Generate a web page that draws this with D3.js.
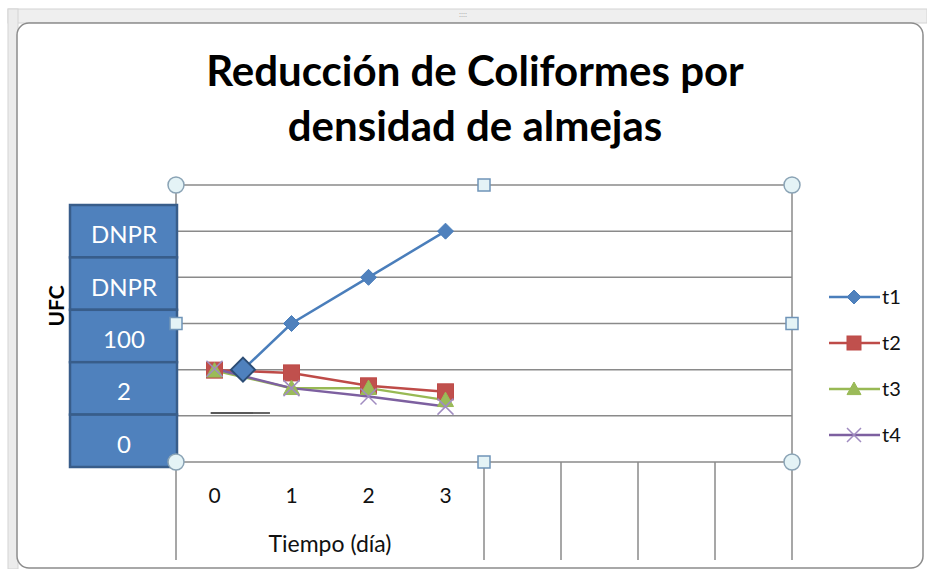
<!DOCTYPE html>
<html>
<head>
<meta charset="utf-8">
<script src="https://cdn.jsdelivr.net/npm/d3@7"></script>
<style>
  body { margin: 0; background: #fff; }
  svg { display: block; font-family: Lato, "Open Sans", sans-serif; }
</style>
</head>
<body>
<svg id="chart" width="927" height="569"></svg>
<script>
var width = 927;
var height = 569;

// category axis: 8 slots, only the first four labelled
var categories = ['0', '1', '2', '3', '', '', '', ''];
var groupLabels = ['Tiempo (día)', '', '', '', ''];
var groupSpans = [4, 1, 1, 1, 1];

// left boxes standing in for the value axis labels
var boxLabels = ['DNPR', 'DNPR', '100', '2', '0'];

var seriesNames = ['t1', 't2', 't3', 't4'];
var t1x = [0.37, 1, 2, 3];
var t1 = [2.0, 3.0, 4.0, 5.0];
var tx = [0, 1, 2, 3];
var t2 = [1.99, 1.93, 1.65, 1.52];
var t3 = [1.98, 1.6, 1.6, 1.34];
var t4 = [2.02, 1.6, 1.42, 1.2];

var colors = ['#4a7ebb', '#be4b48', '#98b954', '#7d60a0'];
var markers = ['diamond', 'square', 'triangle', 'x'];

var series = [
    { name: 't1', xs: t1x, ys: t1 },
    { name: 't2', xs: tx, ys: t2 },
    { name: 't3', xs: tx, ys: t3 },
    { name: 't4', xs: tx, ys: t4 }
];

var plot = { left: 176, right: 792, top: 185, bottom: 462 };

var svg = d3.select('#chart');

// window chrome
svg.append('rect').attr('x', 8).attr('y', 9).attr('width', 919).attr('height', 14)
    .attr('fill', '#efefef').attr('stroke', '#d4d4d4');
svg.append('rect').attr('x', 8).attr('y', 9).attr('width', 10).attr('height', 560)
    .attr('fill', '#ececec').attr('stroke', '#d4d4d4');
svg.append('text').attr('x', 463).attr('y', 17).attr('text-anchor', 'middle')
    .attr('font-size', 8).attr('fill', '#aaa').text('::::');
svg.append('rect').attr('x', 17).attr('y', 23).attr('width', 906).attr('height', 545)
    .attr('rx', 12).attr('fill', '#fff').attr('stroke', '#8c8c8c').attr('stroke-width', 1.5);

// title
var title = svg.append('text').attr('text-anchor', 'middle')
    .attr('font-weight', 'bold').attr('font-size', 42).attr('fill', '#000');
title.append('tspan').attr('x', 475).attr('y', 86).text('Reducción de Coliformes por');
title.append('tspan').attr('x', 475).attr('y', 141).text('densidad de almejas');

var x = d3.scaleLinear().domain([-0.5, categories.length - 0.5]).range([plot.left, plot.right]);
var y = d3.scaleLinear().domain([0, 6]).range([plot.bottom, plot.top]);

// gridlines
svg.append('g').selectAll('line')
    .data(d3.range(0, 7))
    .enter().append('line')
    .attr('x1', plot.left).attr('x2', plot.right)
    .attr('y1', d => y(d)).attr('y2', d => y(d))
    .attr('stroke', '#8a8a8a').attr('stroke-width', 1.5);

// group separators of the category axis
var bounds = [0];
groupSpans.forEach(s => bounds.push(bounds[bounds.length - 1] + s));
svg.append('g').selectAll('line')
    .data(bounds)
    .enter().append('line')
    .attr('x1', d => x(d - 0.5)).attr('x2', d => x(d - 0.5))
    .attr('y1', (d, i) => (i === 0 || i === bounds.length - 1) ? plot.top : plot.bottom)
    .attr('y2', 560)
    .attr('stroke', '#8a8a8a').attr('stroke-width', 1.5);

svg.append('g').selectAll('text')
    .data(categories)
    .enter().append('text')
    .attr('x', (d, i) => x(i)).attr('y', 503)
    .attr('text-anchor', 'middle').attr('font-size', 21).attr('fill', '#111')
    .text(d => d);

svg.append('g').selectAll('text')
    .data(groupLabels)
    .enter().append('text')
    .attr('x', (d, i) => (x(bounds[i] - 0.5) + x(bounds[i + 1] - 0.5)) / 2)
    .attr('y', 552)
    .attr('text-anchor', 'middle').attr('font-size', 23).attr('fill', '#111')
    .text(d => d);

// value-label boxes
var band = d3.scaleBand().domain(d3.range(boxLabels.length)).range([205, 467]);
var boxes = svg.append('g');
boxes.selectAll('rect')
    .data(boxLabels)
    .enter().append('rect')
    .attr('x', 70).attr('y', (d, i) => band(i))
    .attr('width', 107).attr('height', band.bandwidth())
    .attr('fill', '#4f81bd').attr('stroke', '#385d8a').attr('stroke-width', 2.5);
boxes.selectAll('text')
    .data(boxLabels)
    .enter().append('text')
    .attr('x', 124).attr('y', (d, i) => band(i) + band.bandwidth() / 2 + 12)
    .attr('text-anchor', 'middle').attr('font-size', 24).attr('fill', '#fff')
    .text(d => d);

svg.append('text')
    .attr('transform', 'translate(64,306) rotate(-90)')
    .attr('text-anchor', 'middle').attr('font-weight', 'bold').attr('font-size', 21)
    .text('UFC');

// stray short line near the baseline
svg.append('line').attr('x1', x(-0.05)).attr('x2', x(0.5)).attr('y1', 413).attr('y2', 413)
    .attr('stroke', '#222').attr('stroke-width', 1.5);
svg.append('line').attr('x1', x(0.5)).attr('x2', x(0.72)).attr('y1', 413).attr('y2', 413)
    .attr('stroke', '#666').attr('stroke-width', 2);

function marker(g, type, color, size) {
    var s = size;
    if (type === 'diamond') {
        g.append('path').attr('d', `M0,${-s}L${s},0L0,${s}L${-s},0Z`)
            .attr('fill', '#4f81bd').attr('stroke', color);
    } else if (type === 'square') {
        g.append('rect').attr('x', -s).attr('y', -s).attr('width', 2 * s).attr('height', 2 * s)
            .attr('fill', '#c0504d').attr('stroke', '#be4b48');
    } else if (type === 'triangle') {
        g.append('path').attr('d', `M0,${-s}L${s},${s * 0.8}L${-s},${s * 0.8}Z`)
            .attr('fill', '#9bbb59').attr('stroke', '#98b954');
    } else {
        g.append('path').attr('d', `M${-s},${-s}L${s},${s}M${-s},${s}L${s},${-s}`)
            .attr('stroke', '#a08cc0').attr('stroke-width', 1.5).attr('fill', 'none');
    }
}

var line = d3.line();
var lines = svg.append('g');
series.forEach((s, k) => {
    var pts = s.xs.map((v, i) => [x(v), y(s.ys[i])]);
    lines.append('path').attr('d', line(pts))
        .attr('fill', 'none').attr('stroke', colors[k]).attr('stroke-width', 2.5);
});
series.forEach((s, k) => {
    s.xs.forEach((v, i) => {
        var g = lines.append('g').attr('transform', `translate(${x(v)},${y(s.ys[i])})`);
        if (k === 0 && i === 0) {
            g.append('path').attr('d', 'M0,-12L12,0L0,12L-12,0Z')
                .attr('fill', '#4f81bd').attr('stroke', '#2c4d75').attr('stroke-width', 2);
        } else {
            marker(g, markers[k], colors[k], 8);
        }
    });
});

// selection handles
var circles = [[plot.left, plot.top], [plot.right, plot.top], [plot.left, plot.bottom], [plot.right, plot.bottom]];
var squares = [[x(3.5), plot.top], [plot.left, y(3)], [plot.right, y(3)], [x(3.5), plot.bottom]];
svg.append('g').selectAll('circle')
    .data(circles)
    .enter().append('circle')
    .attr('cx', d => d[0]).attr('cy', d => d[1]).attr('r', 8)
    .attr('fill', '#e4f3f6').attr('stroke', '#8aa3b5').attr('stroke-width', 1.5);
svg.append('g').selectAll('rect')
    .data(squares)
    .enter().append('rect')
    .attr('x', d => d[0] - 6).attr('y', d => d[1] - 6).attr('width', 12).attr('height', 12)
    .attr('fill', '#e4f3f6').attr('stroke', '#6f94b8').attr('stroke-width', 1.5);

// legend
var legend = svg.append('g').selectAll('g')
    .data(seriesNames)
    .enter().append('g')
    .attr('transform', (d, i) => `translate(829,${297 + i * 46})`);
legend.append('line').attr('x1', 0).attr('x2', 51)
    .attr('stroke', (d, i) => colors[i]).attr('stroke-width', 2.5);
legend.each(function (d, i) {
    var g = d3.select(this).append('g').attr('transform', 'translate(25,0)');
    marker(g, markers[i], colors[i], 7);
});
legend.append('text').attr('x', 53).attr('y', 7)
    .attr('font-size', 20).attr('fill', '#111')
    .text(d => d);
</script>
</body>
</html>
